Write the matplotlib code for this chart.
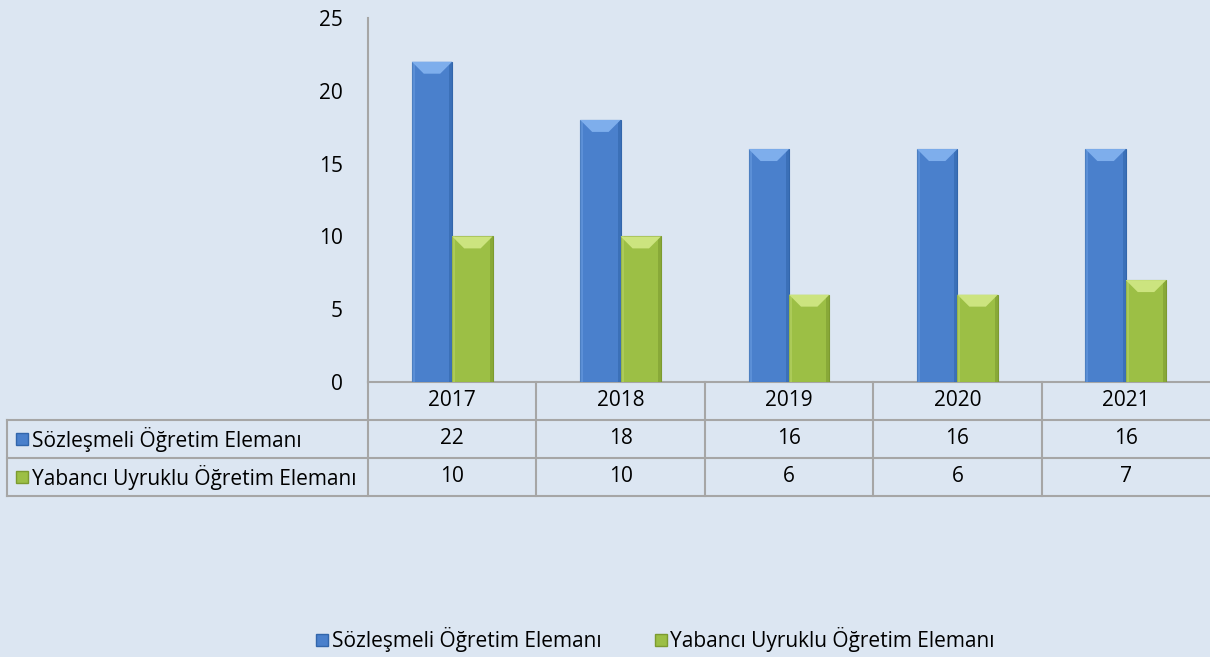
import matplotlib.pyplot as plt
from matplotlib.patches import Polygon, Rectangle
from matplotlib.lines import Line2D

plt.rcParams['font.family'] = ['Open Sans', 'DejaVu Sans']

years = ['2017', '2018', '2019', '2020', '2021']
sozlesmeli = [22, 18, 16, 16, 16]
yabanci = [10, 10, 6, 6, 7]
series_names = ['Sözleşmeli Öğretim Elemanı', 'Yabancı Uyruklu Öğretim Elemanı']

bg = '#dce6f2'
grid_col = '#a6a6a6'
blue = ('#4a80cc', '#7eaeec', '#3266ab')    # body, top bevel, side shade
green = ('#9cbf45', '#cce47f', '#7c9b30')
fs = 15

W, H = 1210, 657
fig = plt.figure(figsize=(W / 100, H / 100), dpi=100, facecolor=bg)

# plot area in pixels
x0, x1, ytop, ybot = 368, 1210, 18, 382
ax = fig.add_axes([x0 / W, 1 - ybot / H, (x1 - x0) / W, (ybot - ytop) / H])
ax.set_facecolor(bg)
ax.set_xlim(-0.5, len(years) - 0.5)
ax.set_ylim(0, 25)
ax.set_yticks(range(0, 26, 5))
ax.set_xticks([])
ax.tick_params(axis='y', length=0, pad=18, labelsize=fs)
for s in ['top', 'right']:
    ax.spines[s].set_visible(False)
ax.spines['left'].set_color(grid_col)
ax.spines['bottom'].set_color(grid_col)
ax.spines['left'].set_linewidth(1.5)
ax.spines['bottom'].set_linewidth(1.5)

bw = 0.24
px_x = (x1 - x0) / len(years)      # pixels per category unit
px_y = (ybot - ytop) / 25.0        # pixels per y unit
bev = 12                           # bevel size in px


def bevel_bar(xc, h, cols):
    body, top, side = cols
    l, r = xc - bw / 2, xc + bw / 2
    dx, dy = bev / px_x, bev / px_y
    ax.add_patch(Rectangle((l, 0), bw, h, facecolor=body, edgecolor=side, lw=0.8, zorder=3))
    sx = 3 / px_x
    ax.add_patch(Rectangle((l, 0), sx, h, facecolor=top, alpha=0.35, lw=0, zorder=4))
    ax.add_patch(Rectangle((r - sx, 0), sx, h, facecolor=side, alpha=0.6, lw=0, zorder=4))
    ax.add_patch(Polygon([(l, h), (r, h), (r - dx, h - dy), (l + dx, h - dy)],
                         closed=True, facecolor=top, edgecolor='none', zorder=5))


for i in range(len(years)):
    bevel_bar(i - bw / 2, sozlesmeli[i], blue)
    bevel_bar(i + bw / 2, yabanci[i], green)

# data table below the plot
rows = [382, 420, 458, 496]
xl = 7
col_edges = [x0 + k * (x1 - x0) / len(years) for k in range(len(years) + 1)]


def fx(px):
    return px / W


def fy(py):
    return 1 - py / H


for yy in rows[1:]:
    fig.add_artist(Line2D([fx(xl), fx(x1)], [fy(yy), fy(yy)], color=grid_col, lw=1.5))
fig.add_artist(Line2D([fx(xl), fx(xl)], [fy(rows[1]), fy(rows[3])], color=grid_col, lw=1.5))
for k, ce in enumerate(col_edges):
    if k == len(col_edges) - 1:
        continue
    fig.add_artist(Line2D([fx(ce), fx(ce)], [fy(rows[0]), fy(rows[3])], color=grid_col, lw=1.5))

for k, yr in enumerate(years):
    xc = (col_edges[k] + col_edges[k + 1]) / 2
    fig.text(fx(xc), fy((rows[0] + rows[1]) / 2), yr, ha='center', va='center', fontsize=fs)
    fig.text(fx(xc), fy((rows[1] + rows[2]) / 2), str(sozlesmeli[k]), ha='center', va='center', fontsize=fs)
    fig.text(fx(xc), fy((rows[2] + rows[3]) / 2), str(yabanci[k]), ha='center', va='center', fontsize=fs)

for r, (name, cols) in enumerate(zip(series_names, [blue, green])):
    yc = (rows[r + 1] + rows[r + 2]) / 2
    fig.add_artist(Line2D([fx(22)], [fy(yc)], marker='s', markersize=8,
                          markerfacecolor=cols[0], markeredgecolor=cols[2], lw=0))
    fig.text(fx(32), fy(yc), name, ha='left', va='center', fontsize=fs)

# legend
handles = [Line2D([], [], marker='s', markersize=8, markerfacecolor=c[0],
                  markeredgecolor=c[2], lw=0) for c in [blue, green]]
fig.legend(handles, series_names, loc='center', bbox_to_anchor=(0.541, fy(640)),
           ncol=2, frameon=False, fontsize=fs, handlelength=0.7, handletextpad=0.1,
           columnspacing=2.5)

fig.savefig('out.png', dpi=100, facecolor=bg)
